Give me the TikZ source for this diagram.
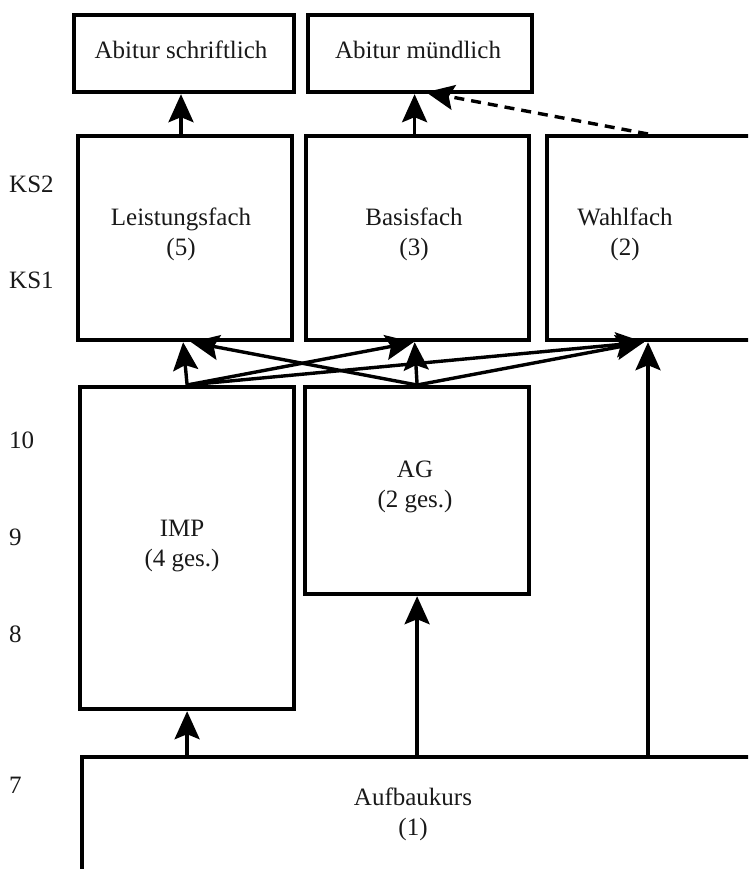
\documentclass[tikz,border=0pt]{standalone}
\usepackage{fontspec}
\setmainfont{Liberation Serif}
\usetikzlibrary{arrows.meta}
\begin{document}
\begin{tikzpicture}[x=1pt,y=-1pt,
  box/.style={draw, line width=4.2pt, inner sep=0pt, anchor=north west},
  lbl/.style={font=\fontsize{25}{30}\selectfont, align=center, inner sep=0pt, text=black!90},
  side/.style={font=\fontsize{25}{30}\selectfont, anchor=base west, inner sep=0pt, text=black!90},
  arr/.style={line width=3.4pt, -{Stealth[length=28pt,width=25pt,inset=5pt]}},
  dasharr/.style={arr, dash pattern=on 10pt off 7pt},
]
\clip (0,0) rectangle (748,869);
% boxes
\node[box, minimum width=220pt, minimum height=77pt] (as) at (72,13) {};
\node[box, minimum width=224pt, minimum height=77pt] (am) at (306,13) {};
\node[box, minimum width=214pt, minimum height=204pt] (lf) at (76,134) {};
\node[box, minimum width=223pt, minimum height=204pt] (bf) at (304,134) {};
\node[box, minimum width=250pt, minimum height=204pt] (wf) at (545,134) {};
\node[box, minimum width=214pt, minimum height=322pt] (imp) at (78,385) {};
\node[box, minimum width=224pt, minimum height=207pt] (ag) at (303,385) {};
\node[box, minimum width=700pt, minimum height=200pt] (ak) at (80,755) {};
% texts
\node[lbl, anchor=base] (ast) at (181,59) {Abitur schriftlich};
\node[lbl, anchor=base] (amt) at (418,59) {Abitur mündlich};
\node[lbl] (lft) at (181,234) {Leistungsfach\\(5)};
\node[lbl] (bft) at (414,234) {Basisfach\\(3)};
\node[lbl] (wft) at (625,234) {Wahlfach\\(2)};
\node[lbl] (impt) at (182,546) {IMP\\(4 ges.)};
\node[lbl] (agt) at (415,487) {AG\\(2 ges.)};
\node[lbl] (akt) at (413,814) {Aufbaukurs\\(1)};
% side labels
\node[side] (ks2) at (9,192) {KS2};
\node[side] (ks1) at (9,288) {KS1};
\node[side] (g10) at (9,448) {10};
\node[side] (g9) at (9,545) {9};
\node[side] (g8) at (9,642) {8};
\node[side] (g7) at (9,793) {7};
% connectors
\coordinate (wfbot) at ([xshift=103pt]wf.south west);
\coordinate (wftop) at ([xshift=103pt]wf.north west);
\draw[arr] (lf.north -| ast) -- (ast |- as.south);
\draw[arr] ([xshift=-3pt]bf.north) -- ([xshift=-3pt]bf.north |- am.south);
\draw[dasharr] (wftop) -- ([xshift=6pt,yshift=2pt]am.south);
\draw[arr] (imp.north) -- ([xshift=-2pt]lf.south);
\draw[arr] (imp.north) -- ([xshift=-4pt]bf.south);
\draw[arr] (imp.north) -- ([xshift=-4pt]wfbot);
\draw[arr] (ag.north) -- ([xshift=-3pt]bf.south);
\draw[arr] (ag.north) -- ([xshift=6pt]lf.south);
\draw[arr] (ag.north) -- ([xshift=-4pt]wfbot);
\draw[arr] (imp.south |- ak.north) -- (imp.south);
\draw[arr] (ag.south |- ak.north) -- (ag.south);
\draw[arr] (wfbot |- ak.north) -- (wfbot);
\end{tikzpicture}
\end{document}
